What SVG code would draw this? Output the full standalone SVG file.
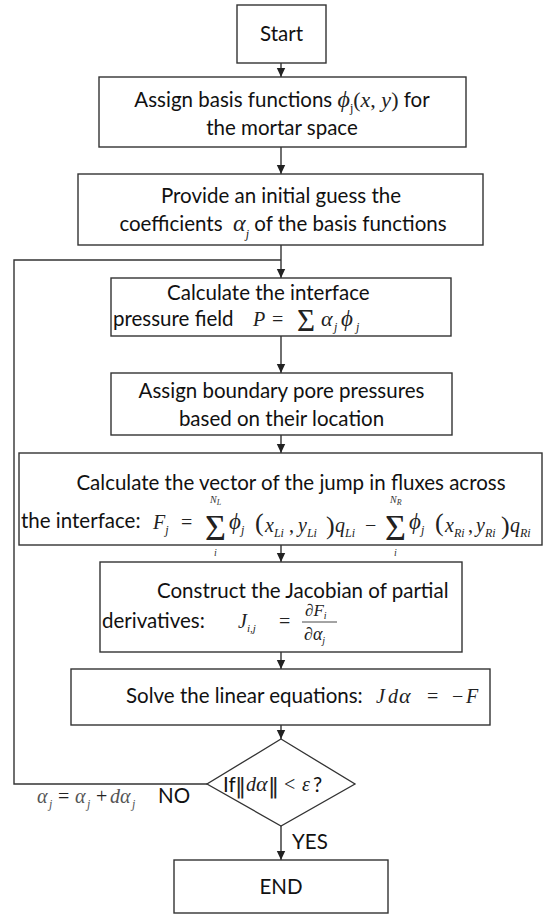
<svg xmlns="http://www.w3.org/2000/svg" width="544" height="915" viewBox="0 0 544 915">
<defs>
<marker id="ah" markerWidth="10" markerHeight="10" refX="9" refY="5" orient="auto" markerUnits="userSpaceOnUse">
<path d="M0,0.8 L9,5 L0,9.2 Z" fill="#222"/>
</marker>
<style>
.box{fill:#fff;stroke:#333;stroke-width:1.4}
.ln{fill:none;stroke:#333;stroke-width:1.4}
.t{font-family:Lato,"Liberation Sans",sans-serif;font-size:20.5px;fill:#111}
.m{font-family:"Liberation Serif",serif;font-style:italic;font-size:20px;fill:#222}
.r{font-family:"Liberation Serif",serif;font-style:normal;font-size:20px;fill:#222}
.s{font-family:"Liberation Serif",serif;font-style:italic;font-size:12px}
.sr{font-family:"Liberation Serif",serif;font-style:normal;font-size:12px}
.big{font-family:"Liberation Serif",serif;font-style:normal;font-size:36px;fill:#222}
.lim{font-family:"Liberation Serif",serif;font-style:italic;font-size:10px;fill:#333}
.nb{font-family:"DejaVu Sans",sans-serif;font-size:22px;fill:#222}
.g{fill:#555}
</style>
</defs>

<g id="connectors">
<line class="ln" x1="281" y1="63" x2="281" y2="77" marker-end="url(#ah)"/>
<line class="ln" x1="281" y1="147" x2="281" y2="174" marker-end="url(#ah)"/>
<line class="ln" x1="281" y1="245" x2="281" y2="278" marker-end="url(#ah)"/>
<line class="ln" x1="281" y1="336" x2="281" y2="373" marker-end="url(#ah)"/>
<line class="ln" x1="281" y1="435" x2="281" y2="453" marker-end="url(#ah)"/>
<line class="ln" x1="281" y1="545" x2="281" y2="562" marker-end="url(#ah)"/>
<line class="ln" x1="281" y1="652" x2="281" y2="669" marker-end="url(#ah)"/>
<line class="ln" x1="281" y1="725" x2="281" y2="739" marker-end="url(#ah)"/>
<line class="ln" x1="281" y1="826" x2="281" y2="860" marker-end="url(#ah)"/>
<polyline class="ln" points="207,784 14,784 14,260 281,260"/>
<text class="t" x="158" y="803">NO</text>
<text class="t" x="292" y="849">YES</text>
<text id="update-label" class="m g" x="37" y="803">α<tspan class="s" x="49" dy="5">j</tspan><tspan class="r" x="58" dy="-5">=</tspan><tspan x="75">α</tspan><tspan class="s" x="87" dy="5">j</tspan><tspan class="r" x="96" dy="-5">+</tspan><tspan x="110">d</tspan><tspan x="120">α</tspan><tspan class="s" x="132" dy="5">j</tspan></text>
</g>

<g id="start">
<rect class="box" x="237" y="5" width="89" height="58"/>
<text class="t" x="281.5" y="41" text-anchor="middle">Start</text>
</g>

<g id="assign-basis">
<rect class="box" x="99" y="77" width="367" height="70"/>
<text class="t" x="282" y="107" text-anchor="middle">Assign basis functions <tspan class="m" style="font-size:24px">ϕ</tspan><tspan class="sr" dy="5">j</tspan><tspan class="r" dy="-5" style="font-size:22px">(</tspan><tspan class="m" style="font-size:22px">x</tspan><tspan class="r" style="font-size:22px">,  </tspan><tspan class="m" style="font-size:22px">y</tspan><tspan class="r" style="font-size:22px">)</tspan> for</text>
<text class="t" x="282" y="135" text-anchor="middle">the mortar space</text>
</g>

<g id="initial-guess">
<rect class="box" x="78" y="174" width="405" height="71"/>
<text class="t" x="281" y="203" text-anchor="middle">Provide an initial guess the</text>
<text class="t" x="283" y="231" text-anchor="middle" xml:space="preserve">coefficients  <tspan class="m" style="font-size:24px">α</tspan><tspan class="s" dy="7">j</tspan><tspan dy="-7"> of the basis functions</tspan></text>
</g>

<g id="pressure-field">
<rect class="box" x="111" y="278" width="340" height="58"/>
<text class="t" x="167" y="300">Calculate the interface</text>
<text class="t" x="113" y="326">pressure field</text>
<text class="m" x="253" y="326">P<tspan class="r" x="272">=</tspan><tspan class="r" x="297" dy="5" style="font-size:31px">Σ</tspan><tspan x="321" dy="-5" style="font-size:22px">α</tspan><tspan class="s" x="334" dy="5">j</tspan><tspan x="341" dy="-5" style="font-size:23px">ϕ</tspan><tspan class="s" x="356" dy="5">j</tspan></text>
</g>

<g id="boundary-pressures">
<rect class="box" x="111" y="373" width="341" height="62"/>
<text class="t" x="281.5" y="398" text-anchor="middle">Assign boundary pore pressures</text>
<text class="t" x="281.5" y="426" text-anchor="middle">based on their location</text>
</g>

<g id="flux-jump">
<rect class="box" x="19" y="453" width="523" height="92"/>
<text class="t" x="291" y="490" text-anchor="middle">Calculate the vector of the jump in fluxes across</text>
<text class="t" x="21" y="528">the interface:</text>
<text class="m" x="153" y="529">F<tspan class="s" dy="5">j</tspan><tspan class="r" x="181" dy="-5">=</tspan></text>
<text class="big" x="205" y="540">Σ</text>
<text class="lim" x="210" y="503">N<tspan dy="2" style="font-size:8px">L</tspan></text>
<text class="lim" x="214" y="556">i</text>
<text class="m" x="229" y="529"><tspan style="font-size:23px">ϕ</tspan><tspan class="s" dy="5">j</tspan><tspan class="r" x="255" dy="-3" style="font-size:26px">(</tspan><tspan x="265" dy="1">x</tspan><tspan class="s" dy="5">Li</tspan><tspan class="r" x="289" dy="-5">,</tspan><tspan x="298">y</tspan><tspan class="s" dy="5">Li</tspan><tspan class="r" x="326" dy="-3" style="font-size:26px">)</tspan><tspan x="335" dy="-2">q</tspan><tspan class="s" dy="5">Li</tspan><tspan class="r" x="365" dy="-5">−</tspan></text>
<text class="big" x="385" y="540">Σ</text>
<text class="lim" x="390" y="503">N<tspan dy="2" style="font-size:8px">R</tspan></text>
<text class="lim" x="394" y="556">i</text>
<text class="m" x="409" y="529"><tspan style="font-size:23px">ϕ</tspan><tspan class="s" dy="5">j</tspan><tspan class="r" x="435" dy="-3" style="font-size:26px">(</tspan><tspan x="445" dy="1">x</tspan><tspan class="s" dy="5">Ri</tspan><tspan class="r" x="468" dy="-5">,</tspan><tspan x="476">y</tspan><tspan class="s" dy="5">Ri</tspan><tspan class="r" x="501" dy="-3" style="font-size:26px">)</tspan><tspan x="510" dy="-2">q</tspan><tspan class="s" dy="5">Ri</tspan></text>
</g>

<g id="jacobian">
<rect class="box" x="100" y="562" width="362" height="90"/>
<text class="t" x="157" y="598">Construct the Jacobian of partial</text>
<text class="t" x="102" y="628">derivatives:</text>
<text class="m" x="238" y="628">J<tspan class="s" dy="4" style="font-size:11px">i,j</tspan><tspan class="r" x="279" dy="-4">=</tspan></text>
<text class="m" x="305" y="616" style="font-size:17px">∂F<tspan class="s" dy="3" style="font-size:10px">i</tspan></text>
<line x1="302" y1="622" x2="337" y2="622" stroke="#333" stroke-width="0.9"/>
<text class="m" x="304" y="640" style="font-size:18px">∂α<tspan class="s" dy="4" style="font-size:10px">j</tspan></text>
</g>

<g id="solve">
<rect class="box" x="71" y="669" width="419" height="56"/>
<text class="t" x="126" y="703">Solve the linear equations:</text>
<text class="m" x="376" y="703">J<tspan x="388">d</tspan><tspan x="399" style="font-size:22px">α</tspan><tspan class="r" x="427">=</tspan><tspan class="r" x="452">−</tspan><tspan x="466">F</tspan></text>
</g>

<g id="converged">
<polygon points="281,739 355,784 281,826 207,784" fill="#fff" stroke="#333" stroke-width="1.3"/>
<text class="t" x="223" y="792">If<tspan class="nb" x="235" dy="1">‖</tspan><tspan class="m" x="246" dy="-2">d</tspan><tspan class="m" x="256" style="font-size:22px">α</tspan><tspan class="nb" x="268" dy="2">‖</tspan><tspan class="r" x="284" dy="-2">&lt;</tspan><tspan class="m" x="302">ε</tspan><tspan x="313" dy="1">?</tspan></text>
</g>

<g id="end">
<rect class="box" x="174" y="860" width="214" height="53"/>
<text class="t" x="281" y="894" text-anchor="middle">END</text>
</g>
</svg>
